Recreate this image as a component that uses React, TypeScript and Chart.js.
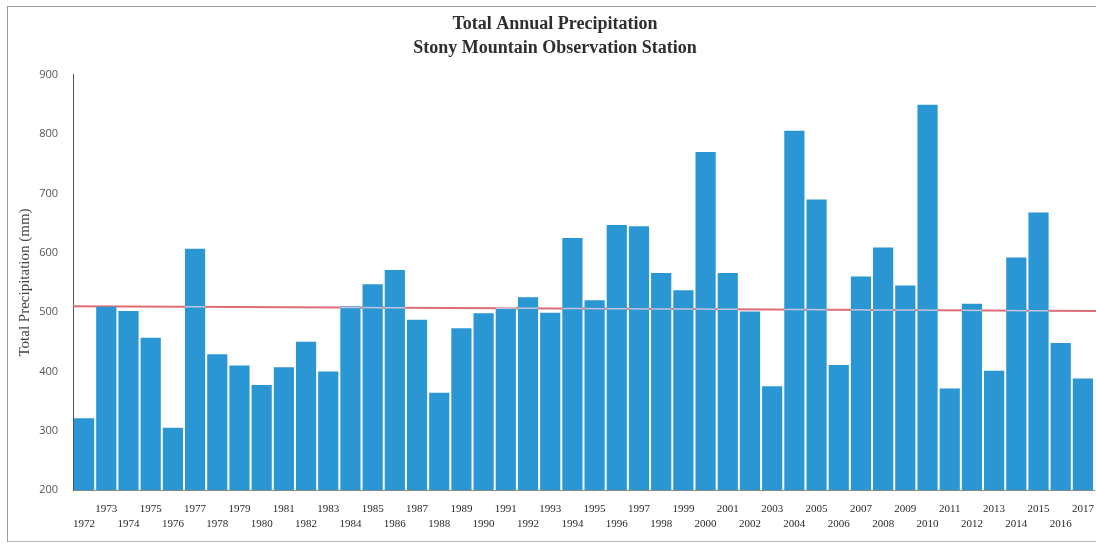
import React, { useEffect, useRef } from "react";
import { Chart, registerables } from "chart.js";

Chart.register(...registerables);

const years: string[] = [
  "1972", "1973", "1974", "1975", "1976", "1977", "1978", "1979", "1980", "1981",
  "1982", "1983", "1984", "1985", "1986", "1987", "1988", "1989", "1990", "1991",
  "1992", "1993", "1994", "1995", "1996", "1997", "1998", "1999", "2000", "2001",
  "2002", "2003", "2004", "2005", "2006", "2007", "2008", "2009", "2010", "2011",
  "2012", "2013", "2014", "2015", "2016", "2017",
];

// Total annual precipitation, mm
const precipitation: number[] = [
  321, 509, 502, 457, 305, 607, 429, 410, 377, 407,
  450, 400, 510, 547, 571, 487, 364, 473, 498, 507,
  525, 499, 625, 520, 647, 645, 566, 537, 770, 566,
  501, 375, 806, 690, 411, 560, 609, 545, 850, 371,
  514, 401, 592, 668, 448, 388,
];

// Linear trend: value at the start and end of the record
const trendStart = 510;
const trendEnd = 502;

const yTicks: number[] = [200, 300, 400, 500, 600, 700, 800, 900];

const titleLines: string[] = [
  "Total Annual Precipitation",
  "Stony Mountain Observation Station",
];
const yAxisTitle = "Total Precipitation (mm)";

const BAR_COLOR = "rgb(42,150,212)";
const TREND_COLOR = "rgb(222,108,118)";

function trendEnds(chart: any) {
  const { chartArea, scales } = chart;
  return {
    x0: chartArea.left,
    y0: scales.y.getPixelForValue(trendStart),
    x1: chart.width,
    y1: scales.y.getPixelForValue(trendEnd),
  };
}

// Trend line across the plot: red behind the bars, a pale trace where it crosses them
const trendPlugin = {
  id: "trendLine",
  beforeDatasetsDraw(chart: any) {
    const { ctx } = chart;
    const t = trendEnds(chart);
    ctx.save();
    ctx.strokeStyle = TREND_COLOR;
    ctx.lineWidth = 2;
    ctx.beginPath();
    ctx.moveTo(t.x0, t.y0);
    ctx.lineTo(t.x1, t.y1);
    ctx.stroke();
    ctx.restore();
  },
  afterDatasetsDraw(chart: any) {
    const { ctx } = chart;
    const t = trendEnds(chart);
    const yAt = (x: number) => t.y0 + ((x - t.x0) / (t.x1 - t.x0)) * (t.y1 - t.y0);
    const bars = chart.getDatasetMeta(0).data;
    ctx.save();
    ctx.strokeStyle = "rgba(238,205,220,0.8)";
    ctx.lineWidth = 1.5;
    bars.forEach((bar: any) => {
      const left = bar.x - bar.width / 2;
      const right = bar.x + bar.width / 2;
      const yl = yAt(left);
      if (bar.y > yl) return;
      ctx.beginPath();
      ctx.moveTo(left, yl);
      ctx.lineTo(right, yAt(right));
      ctx.stroke();
    });
    ctx.restore();
  },
};

export default function App() {
  const canvasRef = useRef<HTMLCanvasElement | null>(null);

  useEffect(() => {
    if (!canvasRef.current) return;
    const chart = new Chart(canvasRef.current, {
      type: "bar",
      data: {
        labels: years,
        datasets: [
          {
            data: precipitation,
            backgroundColor: BAR_COLOR,
            borderWidth: 0,
            categoryPercentage: 1,
            barPercentage: 0.91,
          },
        ],
      },
      options: {
        responsive: false,
        animation: false,
        layout: { padding: { left: 16, right: 2, top: 0, bottom: 0 } },
        plugins: {
          legend: { display: false },
          tooltip: { enabled: false },
          title: {
            display: true,
            text: titleLines,
            color: "#2e2e2e",
            font: { family: "'Liberation Serif', serif", size: 18, weight: "bold", lineHeight: 1.333 },
            padding: { top: 12, bottom: 15 },
          },
        },
        scales: {
          x: {
            offset: true,
            grid: { display: false },
            border: { display: true, color: "#888", width: 1 },
            afterFit: (scale: any) => {
              scale.height = 55;
              scale.paddingLeft = 0;
              scale.paddingRight = 0;
            },
            ticks: {
              autoSkip: false,
              maxRotation: 0,
              minRotation: 0,
              padding: 4,
              color: "#2a2a2a",
              font: { family: "'Liberation Serif', serif", size: 11, lineHeight: 1.36 },
              callback: (_v: any, i: number) => (i % 2 === 0 ? ["", years[i]] : years[i]),
            },
          },
          y: {
            min: 200,
            max: 900,
            grid: { display: false },
            border: { display: true, color: "#555", width: 1 },
            afterFit: (scale: any) => {
              scale.width = 57;
            },
            afterBuildTicks: (scale: any) => {
              scale.ticks = yTicks.map((v) => ({ value: v }));
            },
            ticks: {
              padding: 7,
              color: "#555",
              font: { family: "'Open Sans', sans-serif", size: 11 },
            },
            title: {
              display: true,
              text: yAxisTitle,
              color: "#444",
              padding: 0,
              font: { family: "'Liberation Serif', serif", size: 15, lineHeight: 1.2 },
            },
          },
        },
      },
      plugins: [trendPlugin],
    });
    return () => chart.destroy();
  }, []);

  return (
    <div style={{ position: "absolute", left: 0, top: 0, width: 1096, height: 545, background: "#fff" }}>
      <div
        style={{
          position: "absolute",
          left: 7,
          top: 6,
          width: 1089,
          height: 534,
          borderLeft: "1px solid #9a9a9a",
          borderTop: "1px solid #9a9a9a",
          borderBottom: "1px solid #b5b5b5",
        }}
      />
      <canvas ref={canvasRef} width={1096} height={545} style={{ position: "absolute", left: 0, top: 0 }} />
    </div>
  );
}
